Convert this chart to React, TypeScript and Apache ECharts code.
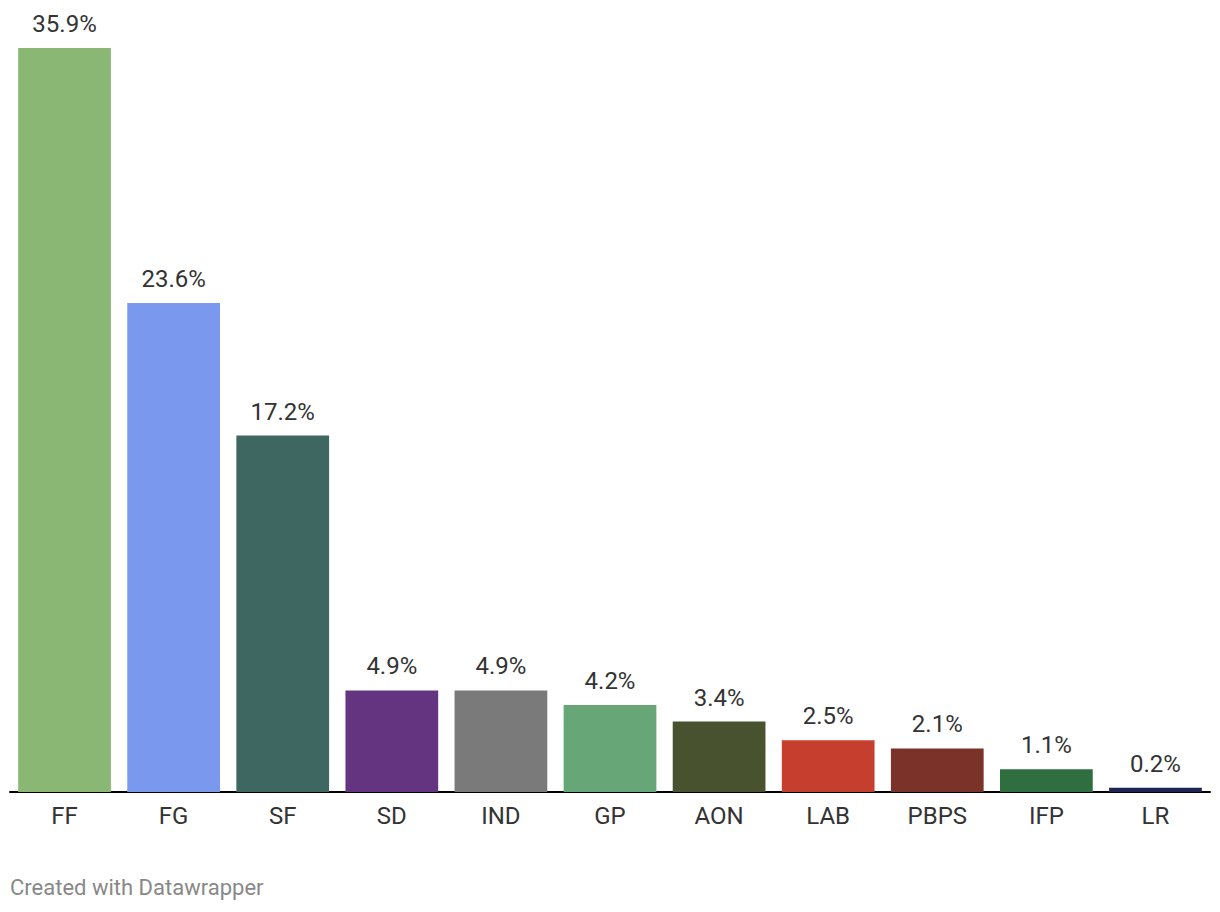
import React, { useEffect, useRef } from "react";
import * as echarts from "echarts";

const categories = ["FF", "FG", "SF", "SD", "IND", "GP", "AON", "LAB", "PBPS", "IFP", "LR"];
const values = [35.9, 23.6, 17.2, 4.9, 4.9, 4.2, 3.4, 2.5, 2.1, 1.1, 0.2];
const colors = [
  "#8ab874", "#7b98ef", "#3e6762", "#643480", "#7a7a7a", "#66a677",
  "#48522f", "#c63f2e", "#7a3229", "#2e6e3f", "#1d2550",
];

export default function App() {
  const ref = useRef<HTMLDivElement>(null);
  useEffect(() => {
    if (!ref.current) return;
    const chart = echarts.init(ref.current, undefined, { renderer: "svg" });
    chart.setOption({
      animation: false,
      backgroundColor: "#ffffff",
      textStyle: { fontFamily: "Roboto" },
      grid: { left: 10, right: 10, top: 48, bottom: 120, containLabel: false },
      xAxis: {
        type: "category",
        data: categories,
        axisLine: { show: true, lineStyle: { color: "#000", width: 2 } },
        axisTick: { show: false },
        axisLabel: { color: "#333", fontSize: 24, margin: 12, fontFamily: "Roboto" },
      },
      yAxis: {
        type: "value",
        min: 0,
        max: 35.9,
        show: false,
        splitLine: { show: false },
      },
      series: [
        {
          type: "bar",
          barCategoryGap: "15%",
          data: values.map((v, i) => ({ value: v, itemStyle: { color: colors[i] } })),
          label: {
            show: true,
            position: "top",
            distance: 12,
            color: "#333",
            fontSize: 24,
            fontFamily: "Roboto",
            formatter: (p: any) => `${p.value.toFixed(1)}%`,
          },
        },
      ],
      graphic: [
        {
          type: "text",
          left: 10,
          top: 876,
          style: {
            text: "Created with Datawrapper",
            fill: "#888",
            fontSize: 22,
            fontFamily: "Roboto",
          },
        },
      ],
    });
    return () => chart.dispose();
  }, []);
  return (
    <div
      ref={ref}
      style={{ position: "fixed", left: 0, top: 0, width: 1220, height: 912, background: "#fff" }}
    />
  );
}
